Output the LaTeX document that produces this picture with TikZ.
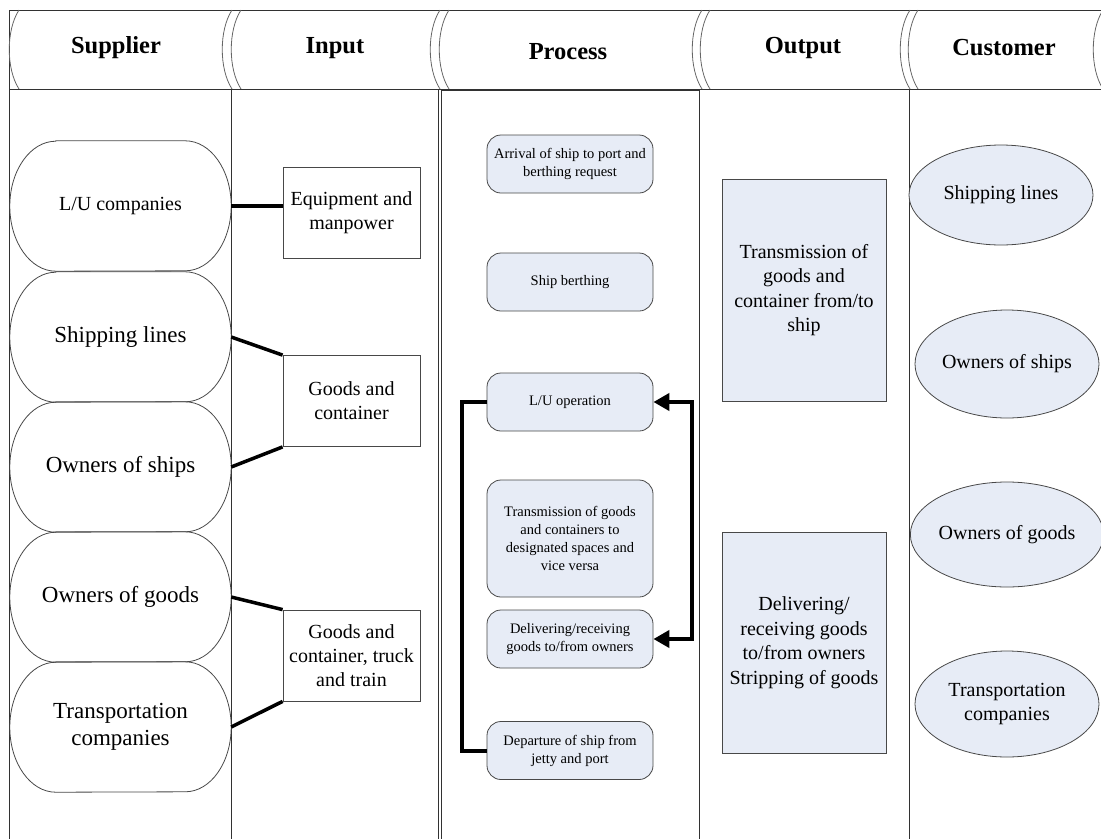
\documentclass[tikz,border=0pt]{standalone}
\usepackage{fontspec}
\setmainfont{Liberation Serif}
\usetikzlibrary{arrows.meta,shapes.geometric}

\definecolor{paleblue}{RGB}{231,236,246}
\definecolor{edgegray}{RGB}{72,72,72}
\definecolor{framegray}{RGB}{50,50,50}

\tikzset{
  frame/.style={draw=framegray, line width=0.9pt},
  headarc/.style={draw=black!60, line width=0.8pt},
  headtext/.style={inner sep=0pt, font=\fontsize{24.5}{28}\selectfont\bfseries},
  supnode/.style={minimum width=221pt, minimum height=130pt, inner sep=0pt, align=center},
  supline/.style={draw=edgegray, line width=0.8pt},
  inbox/.style={draw=edgegray, line width=0.8pt, fill=white, minimum width=137pt, minimum height=91pt,
    inner sep=0pt, align=center, font=\fontsize{20}{24}\selectfont},
  procbox/.style={draw=edgegray, line width=0.8pt, fill=paleblue, rounded corners=14pt, minimum width=166pt,
    minimum height=58pt, inner sep=0pt, align=center, font=\fontsize{14.5}{18}\selectfont},
  outbox/.style={draw=edgegray, line width=0.8pt, fill=paleblue, minimum width=164pt, minimum height=222pt,
    inner sep=0pt, align=center, font=\fontsize{20}{24.5}\selectfont},
  custnode/.style={ellipse, draw=edgegray, line width=0.8pt, fill=paleblue, minimum width=184pt,
    inner sep=0pt, align=center, font=\fontsize{20}{24}\selectfont},
  link/.style={line width=3.5pt, black},
  flow/.style={line width=4pt, black},
  tip/.tip={Triangle[length=16pt,width=17pt]}
}

% outline of a supplier pill: straight top and bottom, half-ellipse ends
\newcommand\pilloutline[1]{%
  \draw[supline] ([xshift=46pt]#1.north west) -- ([xshift=-46pt]#1.north east)
    arc[start angle=90, end angle=-90, x radius=46pt, y radius=65pt]
    -- ([xshift=46pt]#1.south west)
    arc[start angle=270, end angle=90, x radius=46pt, y radius=65pt] -- cycle;}

% curved header divider whose top and bottom ends sit at x = #1
\newcommand\headcurve[1]{%
  \draw[headarc] (#1,-10) .. controls (#1-13,-30) and (#1-13,-69) .. (#1,-89);}

\begin{document}
\begin{tikzpicture}[x=1pt,y=1pt]
\useasboundingbox (0,0) rectangle (1101,-839);

% ---------- header band ----------
\draw[frame] (1101,-10) -- (9.5,-10) -- (9.5,-839);
\draw[frame] (9.5,-89) -- (1101,-89);
\foreach \s in {19,232,241,440,449,702,710,910,918,1103} {\headcurve{\s}}

\node[headtext] (hsup)  at (116,-48) {Supplier};
\node[headtext] (hin)   at (335,-48) {Input};
\node[headtext] (hproc) at (568,-52) {Process};
\node[headtext] (hout)  at (803,-48) {Output};
\node[headtext] (hcus)  at (1004,-48) {Customer};

% ---------- column rules ----------
\foreach \x in {231,438,699,909} {\draw[frame] (\x,-89) -- (\x,-839);}
\draw[frame] (441,-90) -- (441,-839);
\draw[frame] (441,-90.5) -- (699,-90.5);

% ---------- suppliers ----------
\node[supnode, font=\fontsize{20}{24}\selectfont] (sup1) at (120.5,-206) {L/U companies};
\node[supnode, font=\fontsize{23}{27}\selectfont] (sup2) at (120.5,-337) {Shipping lines};
\node[supnode, font=\fontsize{23}{27}\selectfont] (sup3) at (120.5,-467) {Owners of ships};
\node[supnode, font=\fontsize{23}{27}\selectfont] (sup4) at (120.5,-597) {Owners of goods};
\node[supnode, font=\fontsize{23}{27}\selectfont] (sup5) at (120.5,-727) {Transportation\\companies};
\foreach \n in {sup1,sup2,sup3,sup4,sup5} {\pilloutline{\n}}

% ---------- inputs ----------
\node[inbox] (in1) at (351.5,-212.5) {Equipment and\\manpower};
\node[inbox] (in2) at (351.5,-401) {Goods and\\container};
\node[inbox] (in3) at (351.5,-655.5) {Goods and\\container, truck\\and train};

\draw[link] (sup1.east) -- (sup1.east -| in1.west);
\draw[link] (sup2.east) -- (in2.north west);
\draw[link] (sup3.east) -- (in2.south west);
\draw[link] (sup4.east) -- (in3.north west);
\draw[link] (sup5.east) -- (in3.south west);

% ---------- process steps ----------
\node[procbox] (arr) at (570,-164) {Arrival of ship to port and\\berthing request};
\node[procbox] (berth) at (570,-282) {Ship berthing};
\node[procbox] (lu) at (570,-402) {L/U operation};
\node[procbox, minimum height=117pt] (trans) at (570,-538.5) {Transmission of goods\\and containers to\\designated spaces and\\vice versa};
\node[procbox] (deliv) at (570,-639) {Delivering/receiving\\goods to/from owners};
\node[procbox] (dep) at (570,-750.5) {Departure of ship from\\jetty and port};

\draw[flow] (lu.west) -- ++(-25,0) |- (dep.west);
\draw[flow, tip-tip] (lu.east) -- ++(39,0) |- (deliv.east);

% ---------- outputs ----------
\node[outbox] (out1) at (804,-290) {Transmission of\\goods and\\container from/to\\ship};
\node[outbox, minimum height=221pt] (out2) at (804,-642.5) {Delivering/\\receiving goods\\to/from owners\\Stripping of goods};

% ---------- customers ----------
\node[custnode, minimum height=100pt] (cus1) at (1001,-195) {Shipping lines};
\node[custnode, minimum height=108pt] (cus2) at (1007,-364) {Owners of ships};
\node[custnode, minimum height=105pt] (cus3) at (1007,-534.5) {Owners of goods};
\node[custnode, minimum height=106pt] (cus4) at (1007,-704) {Transportation\\companies};
\end{tikzpicture}
\end{document}
